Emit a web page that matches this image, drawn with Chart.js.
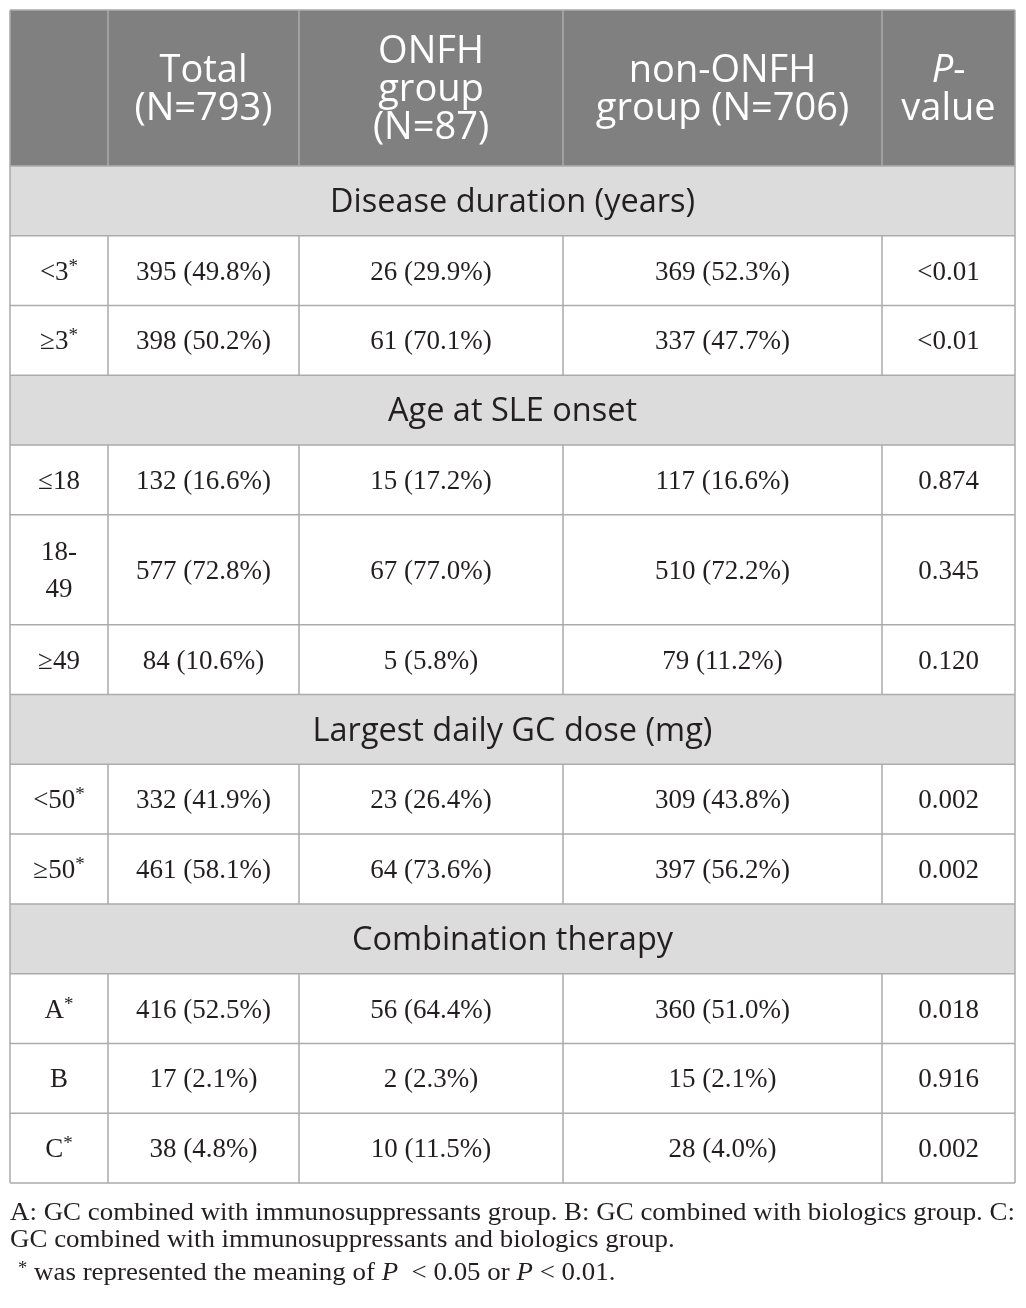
<!DOCTYPE html>
<html>
  <head>
    <title>ONFH table</title>
    <script src="https://cdn.jsdelivr.net/npm/chart.js"></script>
    <style>
      body { margin: 0; background: #fff; }
    </style>
  </head>
  <body>
    <canvas id="tableChart" width="1026" height="1308"></canvas>
    <script>
      // header cells (\n = line break); "P" in the last one is italic
      const columns = ["", "Total\n(N=793)", "ONFH\ngroup\n(N=87)", "non-ONFH\ngroup (N=706)", "P-\nvalue"];
      const sections = ["Disease duration (years)", "Age at SLE onset", "Largest daily GC dose (mg)", "Combination therapy"];

      const rowSection = [0, 0, 1, 1, 1, 2, 2, 3, 3, 3];
      const rowLabels = ["<3", "≥3", "≤18", "18-\n49", "≥49", "<50", "≥50", "A", "B", "C"];
      const rowStar = [true, true, false, false, false, true, true, true, false, true];

      const totalN = [395, 398, 132, 577, 84, 332, 461, 416, 17, 38];
      const totalPct = ["49.8", "50.2", "16.6", "72.8", "10.6", "41.9", "58.1", "52.5", "2.1", "4.8"];
      const onfhN = [26, 61, 15, 67, 5, 23, 64, 56, 2, 10];
      const onfhPct = ["29.9", "70.1", "17.2", "77.0", "5.8", "26.4", "73.6", "64.4", "2.3", "11.5"];
      const nonN = [369, 337, 117, 510, 79, 309, 397, 360, 15, 28];
      const nonPct = ["52.3", "47.7", "16.6", "72.2", "11.2", "43.8", "56.2", "51.0", "2.1", "4.0"];
      const pValues = ["<0.01", "<0.01", "0.874", "0.345", "0.120", "0.002", "0.002", "0.018", "0.916", "0.002"];

      const footLines = [
        "A: GC combined with immunosuppressants group. B: GC combined with biologics group. C:",
        "GC combined with immunosuppressants and biologics group.",
      ];

      // layout (scale units)
      const colWidths = [98, 191, 264, 319, 133];
      const HEADER_H = 156, ROW_H = 69.8, ROW2_H = 110;

      const colEdges = [0];
      colWidths.forEach((w) => colEdges.push(colEdges[colEdges.length - 1] + w));

      // build the row list: header, then section title + its rows
      const rows = [{ type: "header", h: HEADER_H }];
      sections.forEach((s, si) => {
        rows.push({ type: "section", h: ROW_H, text: s });
        rowSection.forEach((sec, i) => {
          if (sec !== si) return;
          const h = rowLabels[i].includes("\n") ? ROW2_H : ROW_H;
          rows.push({
            type: "data", h,
            cells: [
              rowLabels[i],
              totalN[i] + " (" + totalPct[i] + "%)",
              onfhN[i] + " (" + onfhPct[i] + "%)",
              nonN[i] + " (" + nonPct[i] + "%)",
              pValues[i],
            ],
            star: rowStar[i],
          });
        });
      });
      let acc = 0;
      rows.forEach((r) => { r.y0 = acc; acc += r.h; r.y1 = acc; });
      const totalH = acc;

      const SANS = '"Open Sans", "Noto Sans", sans-serif';
      const SERIF = '"Liberation Serif", "DejaVu Serif", serif';
      const DARK = "#231f20";

      const tablePlugin = {
        id: "table",
        afterDraw(chart) {
          const { ctx } = chart;
          const x = chart.scales.x, y = chart.scales.y;
          const px = (v) => x.getPixelForValue(v);
          const py = (v) => y.getPixelForValue(v);
          const left = px(0), right = px(colEdges[colEdges.length - 1]);

          ctx.save();
          // backgrounds
          rows.forEach((r) => {
            if (r.type === "data") return;
            ctx.fillStyle = r.type === "header" ? "#808080" : "#dcdcdc";
            ctx.fillRect(left, py(r.y0), right - left, py(r.y1) - py(r.y0));
          });

          // grid lines
          ctx.strokeStyle = "#ababab";
          ctx.lineWidth = 1.5;
          ctx.beginPath();
          rows.forEach((r) => {
            ctx.moveTo(left, py(r.y0));
            ctx.lineTo(right, py(r.y0));
          });
          ctx.moveTo(left, py(totalH));
          ctx.lineTo(right, py(totalH));
          ctx.moveTo(left, py(0));
          ctx.lineTo(left, py(totalH));
          ctx.moveTo(right, py(0));
          ctx.lineTo(right, py(totalH));
          rows.forEach((r) => {
            if (r.type === "section") return;
            for (let c = 1; c < colEdges.length - 1; c++) {
              ctx.moveTo(px(colEdges[c]), py(r.y0));
              ctx.lineTo(px(colEdges[c]), py(r.y1));
            }
          });
          ctx.stroke();

          ctx.textAlign = "center";
          ctx.textBaseline = "middle";

          const HF = "38px " + SANS, HFI = "italic 38px " + SANS;
          const BF = "27px " + SERIF;
          rows.forEach((r) => {
            const cy = (py(r.y0) + py(r.y1)) / 2;
            if (r.type === "header") {
              ctx.fillStyle = "#ffffff";
              const lh = 38;
              columns.forEach((txt, c) => {
                if (!txt) return;
                const cx = (px(colEdges[c]) + px(colEdges[c + 1])) / 2;
                const lines = txt.split("\n");
                lines.forEach((ln, k) => {
                  const ly = cy + 2 + (k - (lines.length - 1) / 2) * lh;
                  if (c === columns.length - 1 && ln.startsWith("P")) {
                    // italic P followed by hyphen
                    ctx.font = HFI;
                    const wP = ctx.measureText("P").width;
                    ctx.font = HF;
                    const wH = ctx.measureText("-").width;
                    const sx = cx - (wP + wH) / 2;
                    ctx.textAlign = "left";
                    ctx.font = HFI;
                    ctx.fillText("P", sx, ly);
                    ctx.font = HF;
                    ctx.fillText("-", sx + wP, ly);
                    ctx.textAlign = "center";
                  } else {
                    ctx.font = HF;
                    ctx.fillText(ln, cx, ly);
                  }
                });
              });
            } else if (r.type === "section") {
              ctx.fillStyle = DARK;
              ctx.font = "32.5px " + SANS;
              ctx.fillText(r.text, (left + right) / 2, cy + 2);
            } else {
              ctx.fillStyle = DARK;
              r.cells.forEach((txt, c) => {
                const cx = (px(colEdges[c]) + px(colEdges[c + 1])) / 2;
                ctx.font = BF;
                const lines = txt.split("\n");
                if (c === 0 && r.star) {
                  const w = ctx.measureText(txt).width;
                  ctx.font = "19px " + SERIF;
                  const ws = ctx.measureText("*").width;
                  const sx = cx - (w + ws) / 2;
                  ctx.textAlign = "left";
                  ctx.font = BF;
                  ctx.fillText(txt, sx, cy + 2);
                  ctx.font = "19px " + SERIF;
                  ctx.fillText("*", sx + w, cy - 4);
                  ctx.textAlign = "center";
                  return;
                }
                lines.forEach((ln, k) => {
                  ctx.fillText(ln, cx, cy + 2 + (k - (lines.length - 1) / 2) * 37);
                });
              });
            }
          });

          // footnotes, set condensed to fill the table width
          ctx.fillStyle = DARK;
          ctx.textAlign = "left";
          ctx.textBaseline = "alphabetic";
          const f = "26px " + SERIF, fi = "italic 26px " + SERIF, fs = "18px " + SERIF;
          ctx.font = f;
          const squeeze = (right - left) / ctx.measureText(footLines[0]).width;
          const base = py(totalH);
          const drawSq = (segs, x0, yb) => {
            let cx = x0;
            segs.forEach(([t, font, dy]) => {
              ctx.font = font;
              ctx.save();
              ctx.translate(cx, yb + (dy || 0));
              ctx.scale(squeeze, 1);
              ctx.fillText(t, 0, 0);
              ctx.restore();
              cx += ctx.measureText(t).width * squeeze;
            });
          };
          drawSq([[footLines[0], f]], left, base + 37);
          drawSq([[footLines[1], f]], left, base + 64);
          drawSq([
            ["*", fs, -6], [" was represented the meaning of ", f], ["P", fi], ["  < 0.05 or ", f],
            ["P", fi], [" < 0.01.", f],
          ], left + 8, base + 97);
          ctx.restore();
        },
      };

      const ctx = document.getElementById("tableChart").getContext("2d");
      new Chart(ctx, {
        type: "scatter",
        data: { datasets: [{ data: [], pointRadius: 0 }] },
        options: {
          responsive: false,
          animation: false,
          layout: { padding: { left: 10, right: 11, top: 10, bottom: 125 } },
          plugins: { legend: { display: false }, tooltip: { enabled: false } },
          scales: {
            x: { type: "linear", min: 0, max: colEdges[colEdges.length - 1], display: false },
            y: { type: "linear", min: 0, max: totalH, reverse: true, display: false },
          },
        },
        plugins: [tablePlugin],
      });
    </script>
  </body>
</html>
